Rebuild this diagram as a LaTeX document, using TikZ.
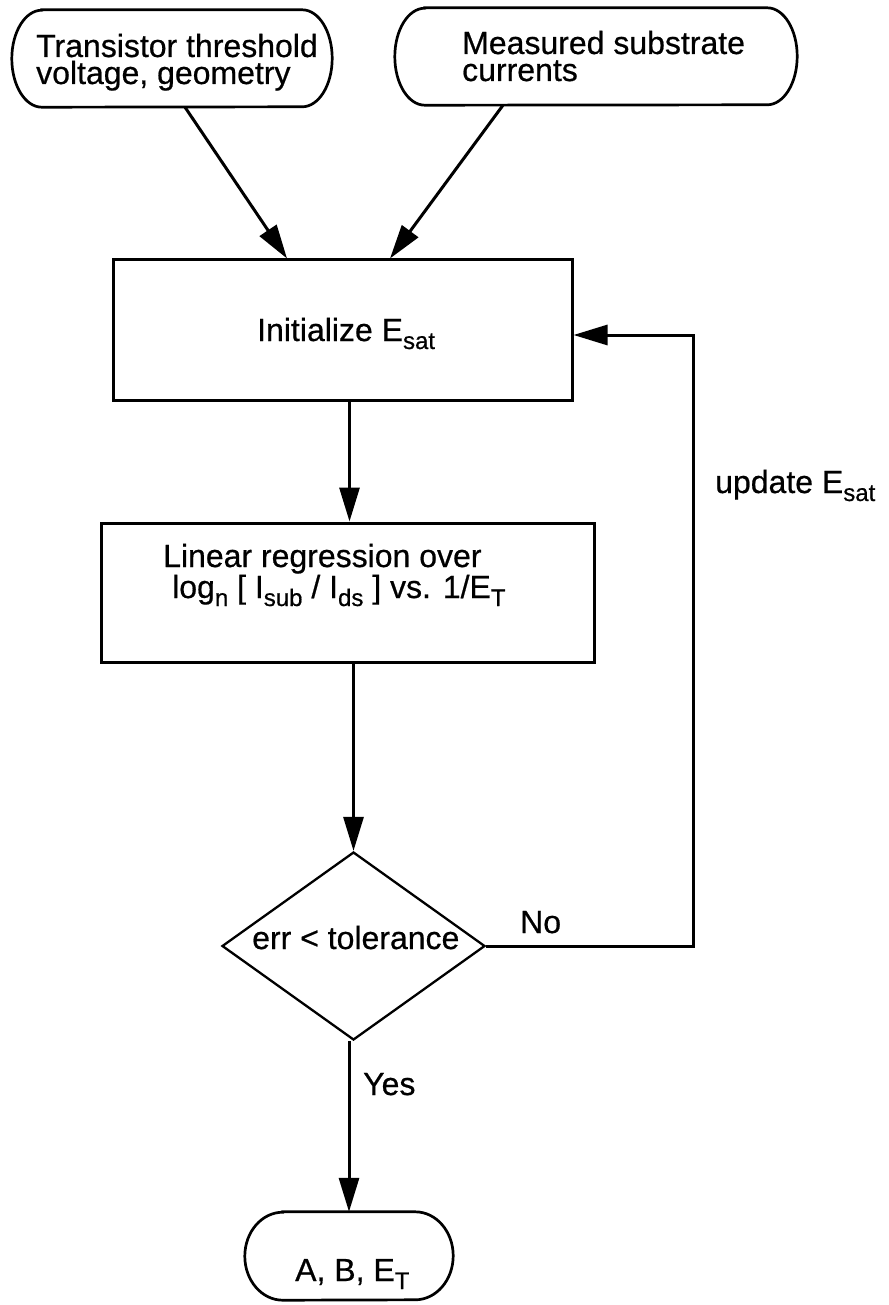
\documentclass[tikz,border=0pt]{standalone}
\usepackage{fontspec}
\setmainfont{Liberation Sans}
\newfontfamily\diagfont{Liberation Sans}[FakeBold=0.6]
\usetikzlibrary{shapes.geometric, arrows.meta, calc}

% lowered, smaller index text (E_sat, I_sub, ...)
\newcommand\sbs[1]{\raisebox{-8pt}{\fontsize{24}{24}\selectfont #1}}

% stadium outline with elliptical ends around an (undrawn) terminal node
\newcommand\termoutline[3]{%
  \draw[termline] ($(#1.north west)+(#2,0)$) -- ($(#1.north east)+(-#2,0)$)
    arc[start angle=90, end angle=-90, x radius=#2, y radius=#3]
    -- ($(#1.south west)+(#2,0)$)
    arc[start angle=270, end angle=90, x radius=#2, y radius=#3] -- cycle;}

\begin{document}
\begin{tikzpicture}[x=1pt, y=1pt,
  terminal/.style={rectangle, inner sep=0pt},
  termline/.style={line width=2.7pt},
  procbox/.style={draw, rectangle, line width=3pt, inner sep=0pt},
  decision/.style={draw, diamond, line width=2.3pt, inner sep=0pt},
  flow/.style={line width=3pt, -{Triangle[length=34pt, width=20pt]}},
  txt/.style={anchor=base west, inner sep=0pt, font=\diagfont\fontsize{32}{27}\selectfont}]

\useasboundingbox (0,0) rectangle (888,-1305);

% ---- shapes ----
\node[terminal, minimum width=320pt, minimum height=97pt] (src1) at (172,-58.5) {};
\node[terminal, minimum width=402pt, minimum height=97pt] (src2) at (596,-56.5) {};
\node[procbox, minimum width=459pt, minimum height=140pt] (init) at (342.5,-330) {};
\node[procbox, minimum width=493pt, minimum height=139pt] (linreg) at (347.5,-592.5) {};
\node[decision, minimum width=263pt, minimum height=188pt] (test) at (353.5,-946) {};
\node[terminal, minimum width=208pt, minimum height=88pt] (out) at (349,-1256) {};

\termoutline{src1}{30}{48.5}
\termoutline{src2}{30}{48.5}
\termoutline{out}{38}{44}

% ---- texts ----
\node[txt] (src1-text) at (36,-57)
  {\vtop{\baselineskip=27pt\hbox{Transistor threshold}\hbox{voltage, geometry}}};
\node[txt] (src2-text) at (462,-54)
  {\vtop{\baselineskip=27pt\hbox{Measured substrate}\hbox{currents}}};
\node[txt] (init-text) at (257,-341) {Initialize E\sbs{sat}};
\node[txt] (linreg-text) at (163,-567)
  {\vtop{\baselineskip=31pt\hbox{Linear regression over}%
   \hbox{\hspace*{9pt}log\sbs{n} [ I\sbs{sub} / I\sbs{ds} ] vs. 1/E\sbs{T}}}};
\node[txt] (test-text) at (252,-949) {err < tolerance};
\node[txt] (no) at (520,-933) {No};
\node[txt] (update) at (715,-493) {update E\sbs{sat}};
\node[txt] (yes) at (363,-1095) {Yes};
\node[txt] (out-text) at (295,-1281) {A, B, E\sbs{T}};

% ---- connectors ----
\coordinate (loop) at (693,-946);
\draw[flow] ([xshift=13pt]src1.south) -- ([xshift=-55.5pt]init.north);
\draw[flow] ([xshift=-93pt]src2.south) -- ([xshift=47.5pt]init.north);
\draw[flow] ([xshift=7pt]init.south) -- ([xshift=7pt]init.south |- linreg.north);
\draw[flow] (linreg.south -| test.north) -- (test.north);
\draw[flow] (test.south -| out.north) -- (out.north);
\draw[flow] (test.east) -- (loop) |- ([yshift=-5pt]init.east);
\end{tikzpicture}
\end{document}
